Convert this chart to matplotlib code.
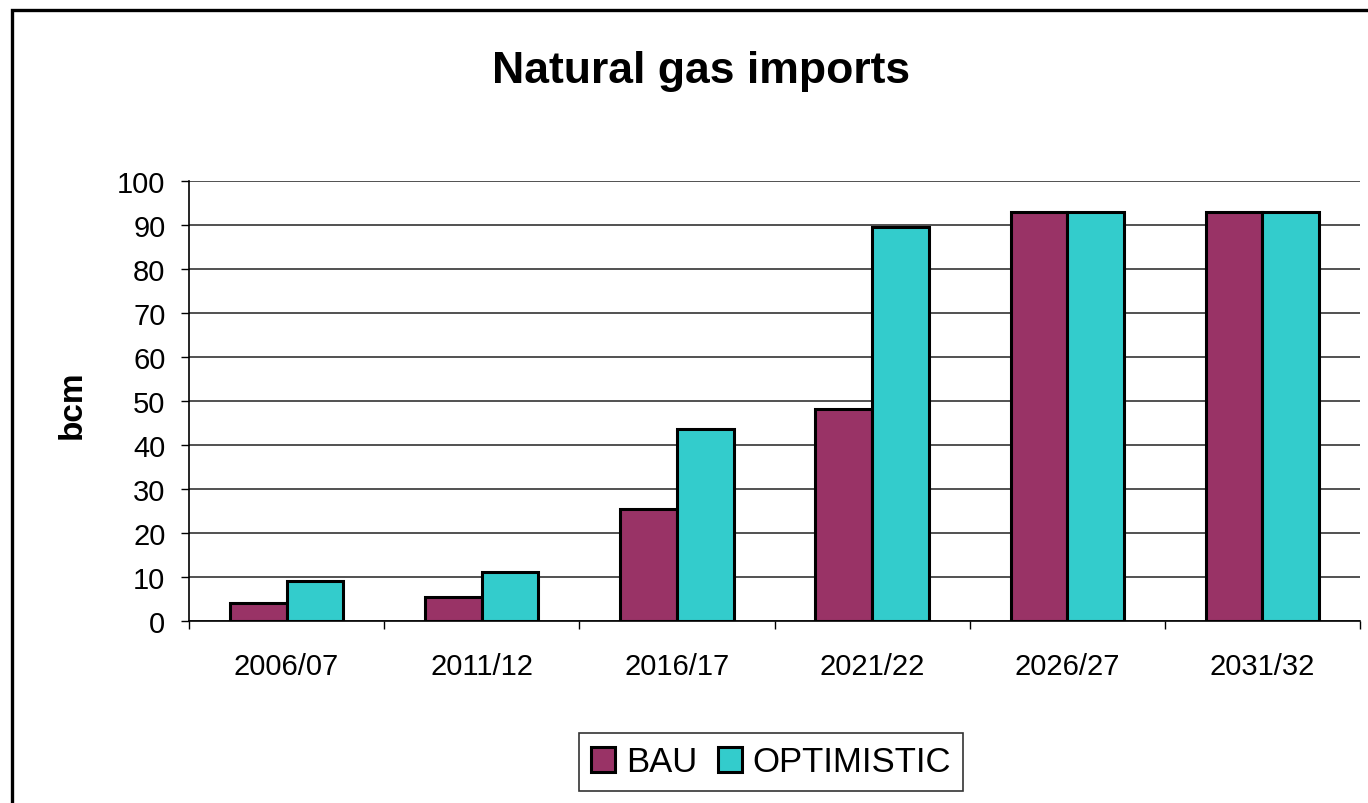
import matplotlib
matplotlib.use("Agg")
import matplotlib.pyplot as plt
from matplotlib.patches import Rectangle
import numpy as np

plt.rcParams['font.family'] = ['Liberation Sans', 'DejaVu Sans']

years = ["2006/07", "2011/12", "2016/17", "2021/22", "2026/27", "2031/32"]
bau = [4.0, 5.5, 25.5, 48.2, 93.0, 93.0]
optimistic = [9.1, 11.1, 43.6, 89.6, 93.0, 93.0]

fig = plt.figure(figsize=(13.68, 8.04), dpi=100)
ax = fig.add_axes([189/1368, 1-622/804, (1360-189)/1368, 440/804])

x = np.arange(len(years))
w = 0.29
ax.bar(x - w/2, bau, w, color="#993366", edgecolor="black", linewidth=2.2, label="BAU", zorder=3)
ax.bar(x + w/2, optimistic, w, color="#33CCCC", edgecolor="black", linewidth=2.2, label="OPTIMISTIC", zorder=3)

ax.set_xlim(-0.5, len(years) - 0.5)
ax.set_ylim(0, 100)
ax.set_yticks(range(0, 101, 10))
ax.yaxis.grid(True, color="#333333", linewidth=1.2)
ax.set_axisbelow(True)

ax.set_xticks(x)
ax.set_xticklabels(years)
ax.set_xticks(np.arange(-0.5, len(years)), minor=True)
ax.tick_params(axis="x", which="major", length=0, pad=22, labelsize=21)
ax.tick_params(axis="x", which="minor", length=6, width=1, direction="out")
ax.tick_params(axis="y", length=6, width=1, direction="out", pad=11, labelsize=21)

for s in ["top", "right"]:
    ax.spines[s].set_visible(False)
ax.spines["left"].set_linewidth(1.2)
ax.spines["bottom"].set_linewidth(1.2)

fig.text(701/1368, 1-72/804, "Natural gas imports", ha="center", va="center",
         fontsize=32, fontweight="bold")
fig.text(72/1368, 1-405/804, "bcm", ha="center", va="center", rotation=90,
         fontsize=24, fontweight="bold")

leg = fig.legend(loc="center", bbox_to_anchor=(771/1368, 1-763/804), ncol=2,
                 fontsize=25, frameon=True, fancybox=False, edgecolor="black",
                 handlelength=0.7, handleheight=0.7, handletextpad=0.3,
                 columnspacing=0.6, borderpad=0.35)
leg.get_frame().set_linewidth(1.2)

fig.add_artist(Rectangle((12/1368, -0.05), 1.2, 1.05 - 11/804, transform=fig.transFigure,
                         fill=False, edgecolor="black", linewidth=2.4))

fig.savefig("out.png", dpi=100)
